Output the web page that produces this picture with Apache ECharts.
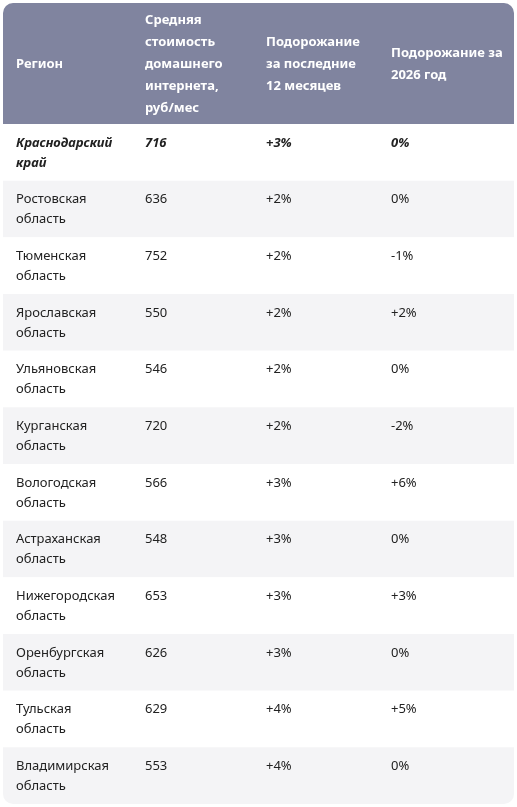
<!DOCTYPE html>
<html>
<head>
<meta charset="utf-8">
<script src="https://cdn.jsdelivr.net/npm/echarts@6/dist/echarts.min.js"></script>
<style>
  html, body { margin: 0; padding: 0; background: #fff; }
  #chart { width: 517px; height: 807px; }
</style>
</head>
<body>
<div id="chart"></div>
<script>
const headers = [
  "Регион",
  "Средняя\nстоимость\nдомашнего\nинтернета,\nруб/мес",
  "Подорожание\nза последние\n12 месяцев",
  "Подорожание за\n2026 год"
];
const regions = [
  "Краснодарский\nкрай", "Ростовская\nобласть", "Тюменская\nобласть",
  "Ярославская\nобласть", "Ульяновская\nобласть", "Курганская\nобласть",
  "Вологодская\nобласть", "Астраханская\nобласть", "Нижегородская\nобласть",
  "Оренбургская\nобласть", "Тульская\nобласть", "Владимирская\nобласть"
];
const prices = [716, 636, 752, 550, 546, 720, 566, 548, 653, 626, 629, 553];
const growth12m = ["+3%", "+2%", "+2%", "+2%", "+2%", "+2%", "+3%", "+3%", "+3%", "+3%", "+4%", "+4%"];
const growth2026 = ["0%", "0%", "-1%", "+2%", "0%", "-2%", "+6%", "0%", "+3%", "0%", "+5%", "0%"];

const colX = [16, 145, 266, 391];
const FONT = "'Noto Sans', sans-serif";
const chart = echarts.init(document.getElementById("chart"));

const rows = regions.map((r, i) => [0, i]);

chart.setOption({
  animation: false,
  grid: { left: 3, right: 3, top: 124, bottom: 3 },
  xAxis: { type: "value", min: 0, max: 1, show: false },
  yAxis: {
    type: "category", data: regions.map((r, i) => i), inverse: true, show: false
  },
  graphic: [
    {
      type: "rect", shape: { x: 3, y: 3, width: 511, height: 121, r: [10, 10, 0, 0] },
      style: { fill: "#80849f" }
    },
    ...headers.map((h, c) => ({
      type: "text", x: colX[c], y: 64,
      style: {
        text: h, fill: "#fff", font: "bold 13px " + FONT,
        lineHeight: 22, verticalAlign: "middle"
      }
    }))
  ],
  series: [{
    type: "custom",
    data: rows,
    renderItem: (params, api) => {
      const i = api.value(1);
      const center = api.coord([0, i]);
      const h = api.size([0, 1])[1];
      const top = center[1] - h / 2;
      const last = i === regions.length - 1;
      const bold = i === 0;
      const cells = [regions[i], String(prices[i]), growth12m[i], growth2026[i]];
      const font = (bold ? "italic bold " : "") + "13px " + FONT;
      return {
        type: "group",
        children: [
          {
            type: "rect",
            shape: { x: 3, y: top, width: 511, height: h, r: last ? [0, 0, 10, 10] : 0 },
            style: { fill: i % 2 === 1 ? "#f4f4f6" : "#ffffff" }
          },
          ...cells.map((t, c) => ({
            type: "text", x: colX[c], y: top + 9,
            style: { text: t, fill: "#222", font: font, lineHeight: 20, verticalAlign: "top" }
          }))
        ]
      };
    }
  }]
});
</script>
</body>
</html>
